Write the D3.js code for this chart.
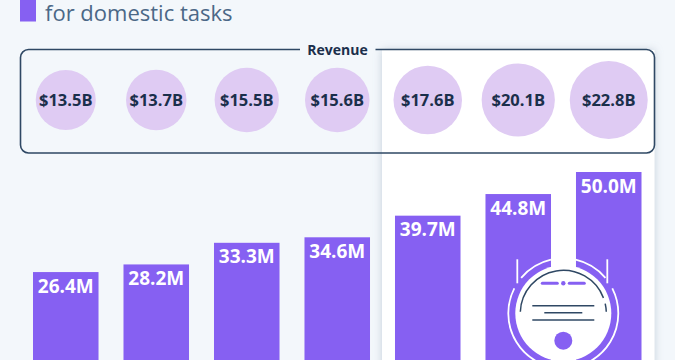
<!DOCTYPE html>
<html>
<head>
<meta charset="utf-8">
<script src="https://cdn.jsdelivr.net/npm/d3@7"></script>
<style>
html, body { margin: 0; padding: 0; background: #f3f7fb; overflow: hidden; }
svg { display: block; font-family: "Open Sans", sans-serif; }
</style>
</head>
<body>
<svg width="675" height="360"></svg>
<script>
const width = 675, height = 360;

const subtitle = "for domestic tasks";
const revenueLabel = "Revenue";
const periods = [0, 1, 2, 3, 4, 5, 6]; // the category labels are cropped out of the picture
const revenue = [13.5, 13.7, 15.5, 15.6, 17.6, 20.1, 22.8];
const units = [26.4, 28.2, 33.3, 34.6, 39.7, 44.8, 50.0];

const purple = "#8660f2", lilac = "#dfcbf3", navy = "#1b2f4b", frameColor = "#2f4864";

const svg = d3.select("svg");

const xScale = d3.scaleBand()
    .domain(periods)
    .range([33, 641.5])
    .paddingInner(0.276)
    .paddingOuter(0);

const yScale = d3.scaleLinear()
    .domain([0, 50])
    .range([384, 172]);

const rScale = d3.scaleSqrt()
    .domain([0, 22.8])
    .range([0, 39]);

// Shadow filter for the highlight panel
const defs = svg.append("defs");
defs.append("filter")
    .attr("id", "panelShadow")
    .attr("x", "-10%").attr("y", "-10%")
    .attr("width", "120%").attr("height", "120%")
    .append("feDropShadow")
    .attr("dx", 0).attr("dy", 0)
    .attr("stdDeviation", 4)
    .attr("flood-color", "#8a9bb0")
    .attr("flood-opacity", 0.45);

// Highlight panel behind the last three periods
svg.append("rect")
    .attr("x", 382)
    .attr("y", 50)
    .attr("width", 272.5)
    .attr("height", 330)
    .attr("fill", "#fff")
    .attr("filter", "url(#panelShadow)");

// Subtitle and marker
svg.append("rect")
    .attr("x", 20).attr("y", -5)
    .attr("width", 16).attr("height", 26.5)
    .attr("fill", purple);

svg.append("text")
    .attr("x", 45)
    .attr("y", 21)
    .attr("fill", "#4b6887")
    .style("font-size", "22px")
    .text(subtitle);

// Revenue frame, open at the top for its label
const frame = d3.path();
const fx0 = 20.5, fx1 = 654.5, fy0 = 49.5, fy1 = 153, fr = 8;
frame.moveTo(300, fy0);
frame.lineTo(fx0 + fr, fy0);
frame.arcTo(fx0, fy0, fx0, fy0 + fr, fr);
frame.lineTo(fx0, fy1 - fr);
frame.arcTo(fx0, fy1, fx0 + fr, fy1, fr);
frame.lineTo(fx1 - fr, fy1);
frame.arcTo(fx1, fy1, fx1, fy1 - fr, fr);
frame.lineTo(fx1, fy0 + fr);
frame.arcTo(fx1, fy0, fx1 - fr, fy0, fr);
frame.lineTo(375.5, fy0);

svg.append("path")
    .attr("d", frame.toString())
    .attr("fill", "none")
    .attr("stroke", frameColor)
    .attr("stroke-width", 1.6);

svg.append("text")
    .attr("x", 337.5)
    .attr("y", 54.5)
    .attr("text-anchor", "middle")
    .attr("fill", navy)
    .style("font-size", "14px")
    .style("font-weight", 700)
    .text(revenueLabel);

// Revenue bubbles
svg.selectAll("circle.revenue")
    .data(revenue)
    .join("circle")
    .attr("class", "revenue")
    .attr("cx", (d, i) => xScale(periods[i]) + xScale.bandwidth() / 2)
    .attr("cy", 100)
    .attr("r", d => rScale(d))
    .attr("fill", lilac);

svg.selectAll("text.revenue")
    .data(revenue)
    .join("text")
    .attr("class", "revenue")
    .attr("x", (d, i) => xScale(periods[i]) + xScale.bandwidth() / 2)
    .attr("y", 106)
    .attr("text-anchor", "middle")
    .attr("fill", navy)
    .style("font-size", "16.5px")
    .style("font-weight", 700)
    .text(d => `$${d.toFixed(1)}B`);

// Bars
svg.selectAll("rect.bar")
    .data(units)
    .join("rect")
    .attr("class", "bar")
    .attr("x", (d, i) => xScale(periods[i]))
    .attr("y", d => yScale(d))
    .attr("width", xScale.bandwidth())
    .attr("height", d => yScale(0) - yScale(d))
    .attr("fill", purple);

// Robot vacuum icon on top of the last bars
const icon = svg.append("g").attr("transform", "translate(563.3, 313.3)");
const deg = Math.PI / 180;
const arcPath = (r, a0, a1) => d3.arc()
    .innerRadius(r).outerRadius(r)
    .startAngle(a0 * deg).endAngle(a1 * deg)();

icon.append("circle").attr("r", 48).attr("fill", "#fff");

[[-50, -13], [13, 50], [63, 297]].forEach(([a0, a1]) => {
    icon.append("path")
        .attr("d", arcPath(55, a0, a1))
        .attr("fill", "none")
        .attr("stroke", "#fff")
        .attr("stroke-width", 1.8);
});

[-46, 44].forEach(x => {
    icon.append("line")
        .attr("x1", x).attr("x2", x)
        .attr("y1", -54).attr("y2", -30)
        .attr("stroke", "#fff")
        .attr("stroke-width", 1.8);
});

[[-88, 69], [77, 88]].forEach(([a0, a1]) => {
    icon.append("path")
        .attr("d", arcPath(43, a0, a1))
        .attr("fill", "none")
        .attr("stroke", frameColor)
        .attr("stroke-width", 1.5);
});

[[-21, -6], [6, 21]].forEach(([x1, x2]) => {
    icon.append("line")
        .attr("x1", x1).attr("x2", x2)
        .attr("y1", -30).attr("y2", -30)
        .attr("stroke", purple)
        .attr("stroke-width", 3)
        .attr("stroke-linecap", "round");
});
icon.append("circle").attr("cy", -30).attr("r", 2.2).attr("fill", purple);

[[-31, 31, -7.6], [-19, 19, -0.6], [-31, 31, 6.7]].forEach(([x1, x2, y]) => {
    icon.append("line")
        .attr("x1", x1).attr("x2", x2)
        .attr("y1", y).attr("y2", y)
        .attr("stroke", frameColor)
        .attr("stroke-width", 1.5);
});

icon.append("circle").attr("cy", 27.4).attr("r", 9).attr("fill", purple);

// Bar labels
svg.selectAll("text.bar")
    .data(units)
    .join("text")
    .attr("class", "bar")
    .attr("x", (d, i) => xScale(periods[i]) + xScale.bandwidth() / 2)
    .attr("y", d => yScale(d) + 20.5)
    .attr("text-anchor", "middle")
    .attr("fill", "#fff")
    .style("font-size", "19px")
    .style("font-weight", 700)
    .text(d => `${d.toFixed(1)}M`);
</script>
</body>
</html>
